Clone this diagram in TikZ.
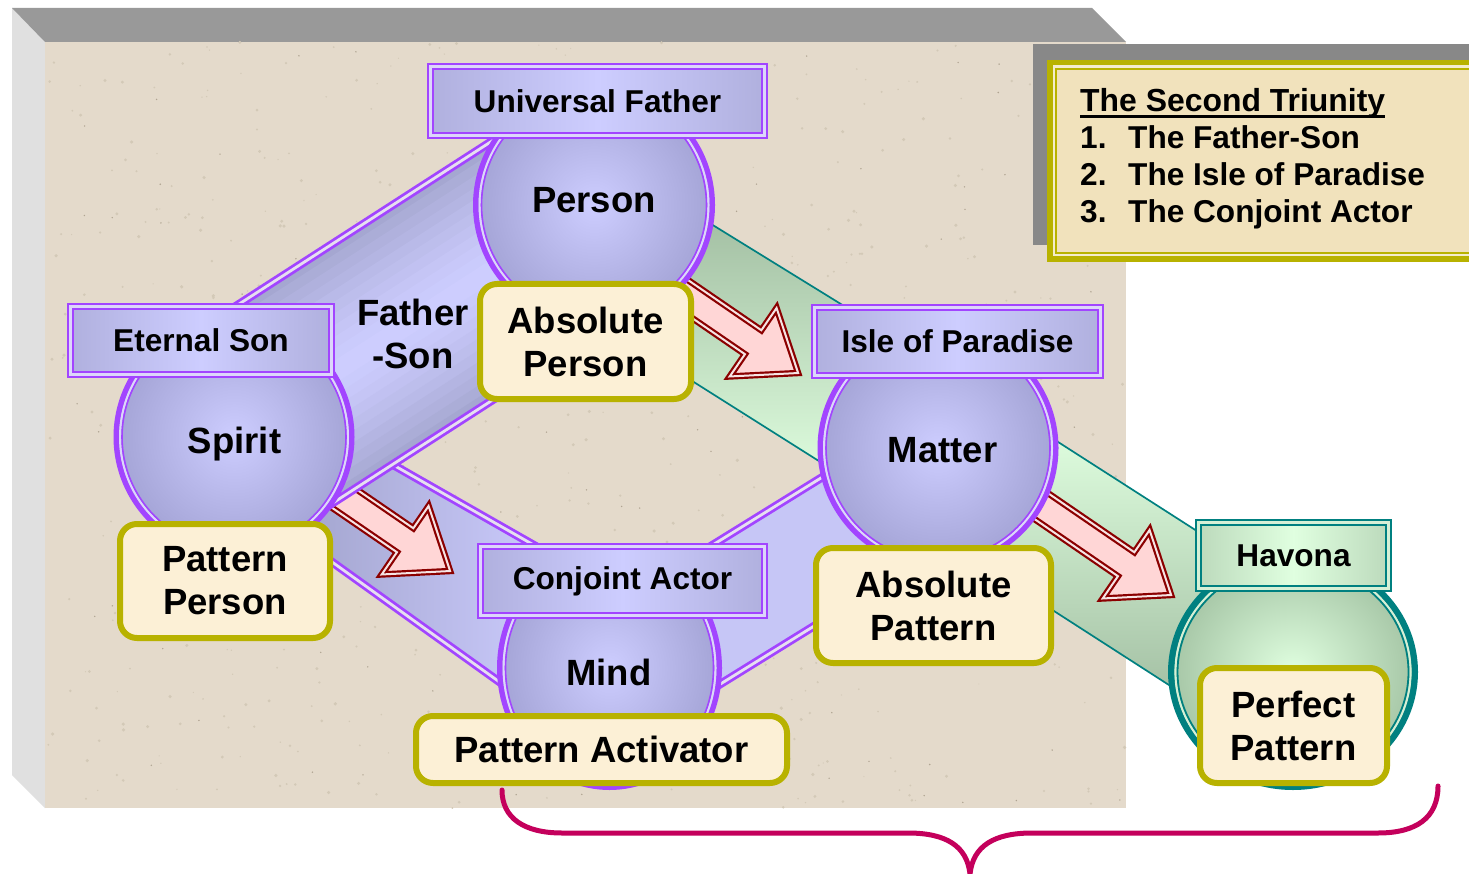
\documentclass[tikz,border=0pt]{standalone}
\usepackage{fontspec}
\setmainfont{Liberation Sans}
\usetikzlibrary{shapes.geometric}
\definecolor{vio}{HTML}{A245FF}
\definecolor{viogap}{HTML}{DCD6FA}
\definecolor{linegap}{HTML}{E6DFF0}
\definecolor{lavL}{HTML}{CDCDFF}
\definecolor{lavD}{HTML}{B0B0DE}
\definecolor{lavC}{HTML}{A4A4D6}
\definecolor{lavFSd}{HTML}{A3A5CE}
\definecolor{lavM}{HTML}{C6C6F6}
\definecolor{olive}{HTML}{B8B200}
\definecolor{cream}{HTML}{FCF0D6}
\definecolor{tealc}{HTML}{008080}
\definecolor{tealgap}{HTML}{D6F0D6}
\definecolor{grnL}{HTML}{E0FFE0}
\definecolor{grnD}{HTML}{A2BEA2}
\definecolor{grnB}{HTML}{BCDABC}
\definecolor{grnO}{HTML}{A6C6A6}
\definecolor{darkredc}{HTML}{8B0000}
\definecolor{pinkf}{HTML}{FFD6D6}
\definecolor{pinkgap}{HTML}{F6E4E4}
\definecolor{beige}{HTML}{E4DACB}
\definecolor{speck}{HTML}{D3C9B7}
\definecolor{speckd}{HTML}{B0A492}
\definecolor{parch}{HTML}{F1E2BC}
\definecolor{parchL}{HTML}{F4ECCC}
\definecolor{shadowg}{HTML}{888888}
\definecolor{bevT}{HTML}{999999}
\definecolor{bevL}{HTML}{E0E0E0}
\definecolor{bracec}{HTML}{C4005C}
\newcommand\mylblfont{\fontsize{31.6}{37}\selectfont\bfseries}
\newcommand\mybigfont{\fontsize{36.5}{43}\selectfont\bfseries}
\tikzset{
 vbox/.style={rectangle, inner sep=0pt, draw=vio, line width=2pt, double=viogap, double distance=3pt, left color=lavD, right color=lavD, middle color=lavL, font=\mylblfont},
 hbox/.style={rectangle, inner sep=0pt, draw=tealc, line width=2pt, double=tealgap, double distance=3pt, left color=grnB, right color=grnB, middle color=grnL, font=\mylblfont},
 cbox/.style={rectangle, rounded corners=17pt, inner sep=0pt, draw=olive, line width=6pt, fill=cream, font=\mybigfont, align=center},
 circ/.style={circle, inner sep=0pt, draw=vio, line width=5.5pt, inner color=lavL, outer color=lavC},
 hcirc/.style={ellipse, inner sep=0pt, draw=tealc, line width=6.5pt, inner color=grnL, outer color=grnO},
 ringgap/.style={draw=viogap, line width=2.2pt},
 ringin/.style={draw=vio, line width=1.6pt},
 hringgap/.style={draw=tealgap, line width=2.2pt},
 hringin/.style={draw=tealc, line width=1.8pt},
 bandline/.style={draw=vio, line width=2.8pt, double=linegap, double distance=2.8pt},
 grnline/.style={draw=tealc, line width=1.7pt},
 blockarrow/.style={fill=pinkf, draw=darkredc, line width=2.2pt, double=pinkgap, double distance=2pt, line join=miter},
 bigtxt/.style={font=\mybigfont, inner sep=0pt, anchor=base},
 lgtxt/.style={font=\mylblfont, inner sep=0pt, anchor=base west},
}
\newcommand\blockarr[2]{%
 \begin{scope}[shift={(#1,#2)}, rotate=-34.4]
  \draw[blockarrow] (-3.5,0) -- (-58,41.5) -- (-58,14.5) -- (-175,14.5) -- (-175,-14.5) -- (-58,-14.5) -- (-58,-41.5) -- cycle;
 \end{scope}}
\begin{document}
\begin{tikzpicture}[x=1pt,y=-1pt]
\useasboundingbox (0,0) rectangle (1469,874);
\clip (0,0) rectangle (1469,874);
\fill[white] (0,0) rectangle (1469,874);
% bevelled panel
\fill[bevL] (12,8) -- (45,42) -- (45,808) -- (12,775) -- cycle;
\fill[bevT] (12,8) -- (1092,8) -- (1126,42) -- (45,42) -- cycle;
\fill[beige] (45,42) rectangle (1126,808);
\pgfmathsetseed{4711}
\foreach \i in {1,...,650}{
  \pgfmathsetmacro\spx{45+1081*rnd}
  \pgfmathsetmacro\spy{42+766*rnd}
  \pgfmathsetmacro\spr{0.6+1.2*rnd}
  \fill[speck] (\spx,\spy) circle (\spr pt);
}
\foreach \i in {1,...,140}{
  \pgfmathsetmacro\spx{45+1081*rnd}
  \pgfmathsetmacro\spy{42+766*rnd}
  \fill[speckd] (\spx,\spy) circle (0.8pt);
}
% Spirit-Mind and Matter-Mind bands
\fill[left color=lavFSd, right color=lavL] (360,446) -- (560,560) -- (540,711) -- (300,539) -- cycle;
\draw[bandline] (360,446) -- (560,560);
\draw[bandline] (300,539) -- (540,711);
\fill[lavM] (850,460) -- (930,520) -- (840,610) -- (680,709) -- (690,559) -- cycle;
\draw[bandline] (850,460) -- (690,559);
\draw[bandline] (840,610) -- (680,709);
% arrow Spirit -> Conjoint Actor
\blockarr{453}{573}
% Father-Son band
\begin{scope}[shift={(414,321)}, rotate=32.8]
\foreach \i in {0,...,21}{
  \pgfmathsetmacro\stt{abs((\i+0.5)/11-1)}
  \pgfmathsetmacro\stp{round(100*(\stt^1.4))}
  \colorlet{stripc}{lavFSd!\stp!lavL}
  \fill[stripc] (-214,{-109+\i*9.909}) rectangle (214,{-109+(\i+1)*9.909+0.6});
}
\draw[bandline] (-214,-109) -- (214,-109);
\draw[bandline] (-214,109) -- (214,109);
\end{scope}
% green bands
\fill[top color=grnD, bottom color=grnL] (690,211) -- (870,322) -- (860,487) -- (670,367) -- cycle;
\draw[grnline] (690,211) -- (870,322);
\draw[grnline] (670,367) -- (860,487);
\fill[top color=grnL, bottom color=grnD] (1030,424) -- (1225,549) -- (1200,705) -- (1040,602) -- (990,550) -- cycle;
\draw[grnline] (1030,424) -- (1225,549);
\draw[grnline] (1040,602) -- (1200,705);
% arrows
\blockarr{801}{375}
\blockarr{1174}{597}
% circles
\node[circ, minimum size=236.5pt] (person) at (594,205) {};
\draw[ringgap] (person.center) circle (114.4pt);
\draw[ringin] (person.center) circle (112.5pt);
\node[circ, minimum size=235.5pt] (spirit) at (234,437) {};
\draw[ringgap] (spirit.center) circle (113.9pt);
\draw[ringin] (spirit.center) circle (112pt);
\node[circ, minimum size=235.5pt] (matter) at (938,448) {};
\draw[ringgap] (matter.center) circle (113.9pt);
\draw[ringin] (matter.center) circle (112pt);
\node[circ, ellipse, minimum width=219.5pt, minimum height=238.5pt] (mind) at (609.5,668) {};
\draw[ringgap] (mind.center) ellipse [x radius=105.9pt, y radius=115.4pt];
\draw[ringin] (mind.center) ellipse [x radius=104pt, y radius=113.5pt];
\node[hcirc, minimum width=243.5pt, minimum height=229.5pt] (havc) at (1293,672) {};
\draw[hringgap] (havc.center) ellipse [x radius=117.5pt, y radius=110.5pt];
\draw[hringin] (havc.center) ellipse [x radius=115.5pt, y radius=108.5pt];
% circle texts
\node[bigtxt] (tperson) at (594,213) {Person};
\node[bigtxt] (tspirit) at (234.5,453) {Spirit};
\node[bigtxt] (tmatter) at (942.5,462) {Matter};
\node[bigtxt] (tmind) at (609,685) {Mind};
\node[font=\mybigfont, inner sep=0pt, align=center] (fslabel) at (413,333.5) {Father\\-Son};
% label boxes
\node[vbox, minimum width=334pt, minimum height=69pt] (uf) at (597.5,101) {Universal Father};
\node[vbox, minimum width=261pt, minimum height=68pt] (es) at (201,340.5) {Eternal Son};
\node[vbox, minimum width=286pt, minimum height=68pt] (iop) at (957.5,341.5) {Isle of Paradise};
\node[vbox, minimum width=284pt, minimum height=69pt] (ca) at (622.5,581) {Conjoint Actor};
\node[hbox, minimum width=190pt, minimum height=66pt] (hav) at (1293.5,555.5) {Havona};
% cream boxes
\node[cbox, minimum width=211pt, minimum height=115pt] (ap) at (585.5,341.5) {Absolute\\Person};
\node[cbox, minimum width=210pt, minimum height=114pt] (pp) at (225,581) {Pattern\\Person};
\node[cbox, minimum width=235pt, minimum height=115pt] (apat) at (933.5,605.5) {Absolute\\Pattern};
\node[cbox, minimum width=371pt, minimum height=67pt] (pa) at (601.5,749.5) {Pattern Activator};
\node[cbox, minimum width=187pt, minimum height=115pt] (perf) at (1293.5,725.5) {Perfect\\Pattern};
% legend
\fill[shadowg] (1033,44) rectangle (1480,245);
\fill[parch] (1047,60) rectangle (1480,262);
\draw[olive, line width=5.5pt] (1049.75,62.75) rectangle (1500,259.25);
\draw[parchL, line width=2.2pt] (1053.6,66.6) rectangle (1500,255.4);
\draw[olive, line width=2.2pt] (1055.9,68.9) rectangle (1500,253.1);
\node[lgtxt, font=\fontsize{31.9}{37}\selectfont\bfseries] (lgh) at (1080,111.5) {The Second Triunity};
\draw[line width=3.5pt] ([yshift=-5pt]lgh.base west) -- ([yshift=-5pt]lgh.base east);
\node[lgtxt] (lgn1) at (1080,148.5) {1.};
\node[lgtxt] (lgt1) at (1128,148.5) {The Father-Son};
\node[lgtxt] (lgn2) at (1080,185.5) {2.};
\node[lgtxt] (lgt2) at (1128,185.5) {The Isle of Paradise};
\node[lgtxt] (lgn3) at (1080,222.5) {3.};
\node[lgtxt] (lgt3) at (1128,222.5) {The Conjoint Actor};
% brace
\coordinate (braceL) at (502,790);
\coordinate (braceM) at (970,874);
\coordinate (braceR) at (1438,786);
\draw[bracec, line width=5pt, line cap=round] (braceL) .. controls (502,818) and (524,833) .. (562,833) -- (908,833) .. controls (946,833) and (967,846) .. (braceM) .. controls (973,846) and (994,833) .. (1032,833) -- (1378,833) .. controls (1416,833) and (1438,818) .. (braceR);
\end{tikzpicture}
\end{document}
